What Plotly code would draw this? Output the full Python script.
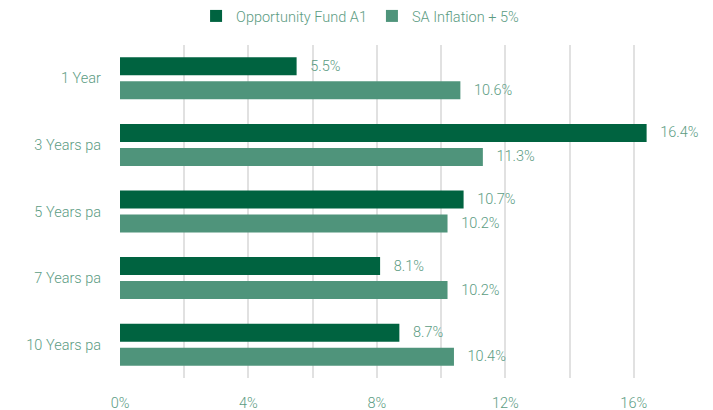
import plotly.graph_objects as go

categories = ["1 Year", "3 Years pa", "5 Years pa", "7 Years pa", "10 Years pa"]
fund_values = [5.5, 16.4, 10.7, 8.1, 8.7]
bench_values = [10.6, 11.3, 10.2, 10.2, 10.4]
series_names = ["Opportunity Fund A1", "SA Inflation + 5%"]
x_tick_vals = [0, 4, 8, 12, 16]
x_tick_text = ["0%", "4%", "8%", "12%", "16%"]

DARK = "#006340"
LIGHT = "#4f947b"
TXT = "#5c9c83"
FONT = "Roboto"
FS = 14.5
FW = 300

fig = go.Figure()
fig.add_trace(go.Bar(
    y=categories, x=fund_values, name=series_names[0], orientation="h",
    marker=dict(color=DARK, line=dict(width=0)),
    text=fund_values, texttemplate="   %{x:.1f}%", textposition="outside",
    textfont=dict(color=TXT, size=FS, family=FONT, weight=FW), cliponaxis=False,
))
fig.add_trace(go.Bar(
    y=categories, x=bench_values, name=series_names[1], orientation="h",
    marker=dict(color=LIGHT, line=dict(width=0)),
    text=bench_values, texttemplate="   %{x:.1f}%", textposition="outside",
    textfont=dict(color=TXT, size=FS, family=FONT, weight=FW), cliponaxis=False,
))

fig.update_layout(
    width=713, height=410,
    margin=dict(l=120, r=15, t=45, b=32, autoexpand=False),
    paper_bgcolor="white", plot_bgcolor="white",
    barmode="group", bargap=0.28, bargroupgap=0.25,
    font=dict(family=FONT, color=TXT, size=FS, weight=FW),
    legend=dict(orientation="h", xref="container", yref="container",
                x=0.505, xanchor="center", y=1.0, yanchor="top",
                font=dict(size=FS, color=TXT, family=FONT, weight=FW),
                itemsizing="constant", traceorder="normal", itemwidth=30),
    xaxis=dict(range=[0, 18], tickvals=x_tick_vals, ticktext=x_tick_text,
               showgrid=True, gridcolor="#e1e1e1", gridwidth=2,
               minor=dict(dtick=2, tick0=0, showgrid=True, gridcolor="#e1e1e1", gridwidth=2),
               zeroline=False, showline=False, ticks="", ticklabelstandoff=14,
               tickfont=dict(size=FS, color=TXT, family=FONT, weight=FW)),
    yaxis=dict(autorange="reversed", showgrid=False, zeroline=False, showline=False,
               ticks="", ticklabelstandoff=18,
               tickfont=dict(size=FS, color=TXT, family=FONT, weight=FW)),
)

fig.write_html("out.html", config={"displayModeBar": False},
               post_script="document.body.style.margin='0';document.body.style.overflow='hidden';")
